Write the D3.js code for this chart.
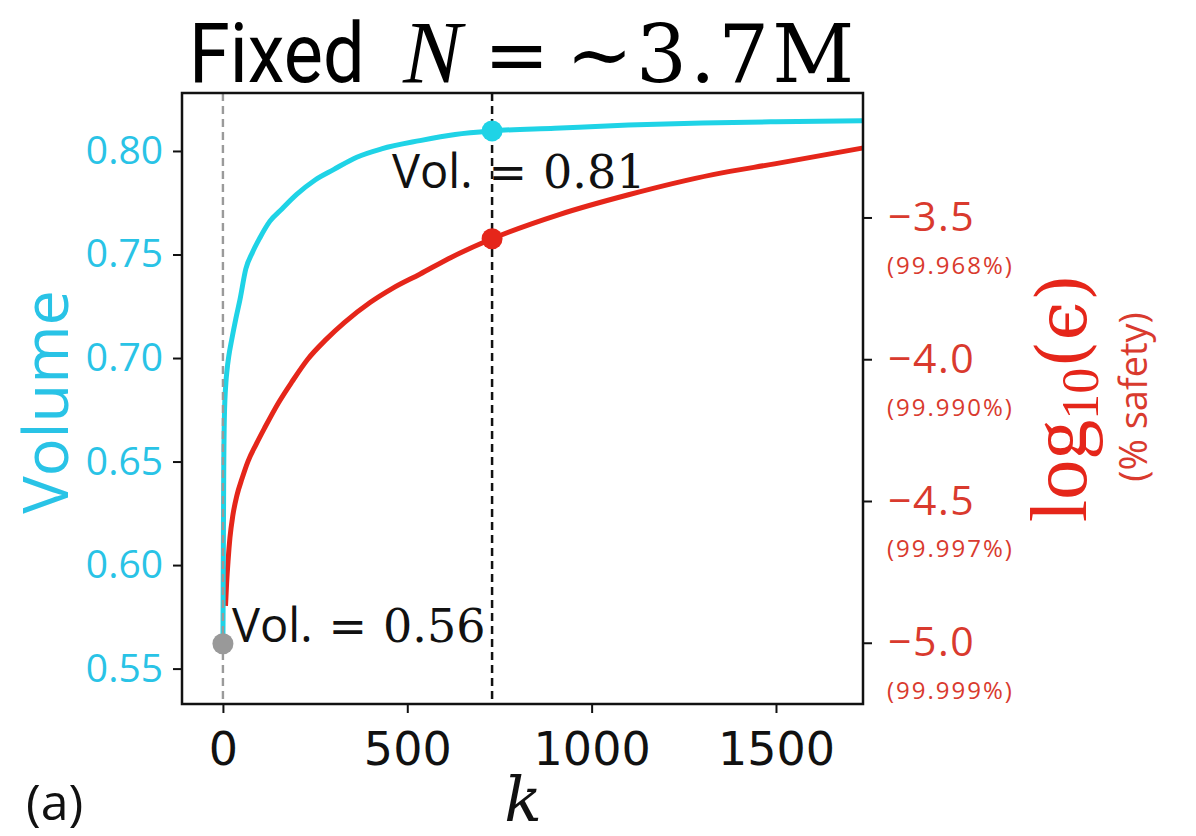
<!DOCTYPE html>
<html><head><meta charset="utf-8">
<script src="https://cdn.jsdelivr.net/npm/d3@7"></script>
<style>
html,body{margin:0;padding:0;background:#fff;}
svg{display:block;}
</style>
</head><body>
<svg id="chart" width="1196" height="836"></svg>
<script>
// ---- data ----
const volK   = [0, 1, 2, 4, 8, 11, 16, 24, 35, 46, 62, 80, 100, 127, 160, 200, 250, 300, 363, 430, 534, 630, 730, 900, 1100, 1300, 1500, 1736];
const volVal = [0.562, 0.60, 0.64, 0.672, 0.688, 0.694, 0.701, 0.709, 0.719, 0.728, 0.743, 0.751, 0.758, 0.766, 0.772, 0.779, 0.786, 0.791, 0.797, 0.801, 0.805, 0.808, 0.8097, 0.811, 0.8125, 0.8135, 0.8141, 0.8146];
const epsK   = [7, 10, 14, 19, 27, 38, 52, 68, 90, 114, 150, 187, 230, 280, 330, 399, 460, 534, 620, 730, 914, 1100, 1329, 1500, 1736];
const epsVal = [-4.87, -4.79, -4.71, -4.63, -4.55, -4.48, -4.42, -4.36, -4.30, -4.24, -4.155, -4.08, -4.00, -3.93, -3.87, -3.80, -3.75, -3.70, -3.64, -3.575, -3.489, -3.42, -3.349, -3.31, -3.255];
const xTicks = [0, 500, 1000, 1500];
const leftTicks = [0.55, 0.60, 0.65, 0.70, 0.75, 0.80];
const rightTicks = [-3.5, -4.0, -4.5, -5.0];
const safetyLabels = ["(99.968%)", "(99.990%)", "(99.997%)", "(99.999%)"];
const kStart = 0, volStart = 0.562;
const kStar = 730, volStar = 0.8097, epsStar = -3.575;

const CYAN = "#1fd3e6", CYAN_T = "#29c3e6", RED = "#e5261a", RED_T = "#d93a2e";
const svg = d3.select("#chart");
const L = 182, R = 863, T = 93, B = 704;
const x = d3.scaleLinear().domain([-111, 1736]).range([L, R]);
const yL = d3.scaleLinear().domain([0.5329, 0.828]).range([B, T]);
const yR = d3.scaleLinear().domain([-5.216, -3.061]).range([B, T]);

const volData = volK.map((k, i) => [k, volVal[i]]);
const epsData = epsK.map((k, i) => [k, epsVal[i]]);

const plot = svg.append("g");
plot.append("clipPath").attr("id", "clip").append("rect").attr("x", L).attr("y", T).attr("width", R - L).attr("height", B - T);
const inner = plot.append("g").attr("clip-path", "url(#clip)");

// black dashed line at kStar
inner.append("line").attr("x1", x(kStar)).attr("x2", x(kStar)).attr("y1", T).attr("y2", B)
  .attr("stroke", "#111").attr("stroke-width", 2.5).attr("stroke-dasharray", "8,5");

// red line
inner.append("path").datum(epsData)
  .attr("d", d3.line().x(d => x(d[0])).y(d => yR(d[1])).curve(d3.curveMonotoneX))
  .attr("fill", "none").attr("stroke", RED).attr("stroke-width", 5).attr("stroke-linejoin", "round");
// cyan line
inner.append("path").datum(volData)
  .attr("d", d3.line().x(d => x(d[0])).y(d => yL(d[1])).curve(d3.curveMonotoneX))
  .attr("fill", "none").attr("stroke", CYAN).attr("stroke-width", 5).attr("stroke-linejoin", "round");

// gray dashed at k=0
inner.append("line").attr("x1", x(kStart)).attr("x2", x(kStart)).attr("y1", T).attr("y2", B)
  .attr("stroke", "#9a9a9a").attr("stroke-width", 2.4).attr("stroke-dasharray", "8,5");

// markers
svg.append("circle").attr("cx", x(kStart)).attr("cy", yL(volStart)).attr("r", 10.5).attr("fill", "#999");
svg.append("circle").attr("cx", x(kStar)).attr("cy", yL(volStar)).attr("r", 10.5).attr("fill", CYAN);
svg.append("circle").attr("cx", x(kStar)).attr("cy", yR(epsStar)).attr("r", 10.5).attr("fill", RED);

// frame
svg.append("rect").attr("x", L).attr("y", T).attr("width", R - L).attr("height", B - T)
  .attr("fill", "none").attr("stroke", "#111").attr("stroke-width", 2.5);

// axes
const gx = svg.append("g").attr("transform", `translate(0,${B})`)
  .call(d3.axisBottom(x).tickValues(xTicks).tickFormat(d3.format("d")).tickSize(9).tickSizeOuter(0).tickPadding(6));
gx.select(".domain").remove();
gx.selectAll(".tick line").attr("stroke", "#111").attr("stroke-width", 2);
gx.selectAll(".tick text").attr("font-family", "DejaVu Sans").attr("font-size", 46).attr("fill", "#111")
  .attr("dy", null).attr("y", 61).attr("transform", null);

const gl = svg.append("g").attr("transform", `translate(${L},0)`)
  .call(d3.axisLeft(yL).tickValues(leftTicks).tickFormat(d3.format(".2f")).tickSize(9).tickSizeOuter(0).tickPadding(10));
gl.select(".domain").remove();
gl.selectAll(".tick line").attr("stroke", "#111").attr("stroke-width", 2);
gl.selectAll(".tick text").attr("font-family", "Open Sans").attr("font-size", 39).attr("fill", CYAN_T);

const gr = svg.append("g").attr("transform", `translate(${R},0)`)
  .call(d3.axisRight(yR).tickValues(rightTicks).tickFormat(d => d3.format(".1f")(d).replace("-", "\u2212")).tickSize(9).tickSizeOuter(0).tickPadding(16));
gr.select(".domain").remove();
gr.selectAll(".tick line").attr("stroke", "#111").attr("stroke-width", 2);
gr.selectAll(".tick text").attr("font-family", "Open Sans").attr("font-size", 41).attr("letter-spacing", 1.5).attr("fill", RED_T).attr("dy", "0.32em");
gr.selectAll(".tick").append("text")
  .text((d, i) => safetyLabels[i])
  .attr("x", 24).attr("y", 56).attr("font-family", "Open Sans").attr("font-size", 24)
  .attr("letter-spacing", 2).attr("fill", RED_T).attr("text-anchor", "start");

// annotations
function annot(xp, yp, v) {
  const a = svg.append("text").attr("x", xp).attr("y", yp).attr("fill", "#111");
  a.append("tspan").attr("font-family", "Open Sans").attr("font-size", 47).text("Vol.");
  a.append("tspan").attr("font-family", "DejaVu Serif").attr("font-size", 46).attr("dx", 16).text("=");
  a.append("tspan").attr("font-family", "DejaVu Serif").attr("font-size", 46).attr("dx", 16).text(v.toFixed(2));
}
annot(392, 188, volStar);
annot(232, 642, volStart);

// title
svg.append("text").attr("transform", "translate(189,82) scale(0.88,1)")
  .attr("font-family", "Roboto").attr("font-size", 84).attr("fill", "#000").text("Fixed");
svg.append("text").attr("x", 403).attr("y", 82)
  .attr("font-family", "Liberation Serif").attr("font-style", "italic").attr("font-size", 88).attr("fill", "#000").text("N");
svg.append("text").attr("x", 484).attr("y", 82)
  .attr("font-family", "DejaVu Serif").attr("font-size", 78).attr("fill", "#000").text("=");
svg.append("text").attr("x", 566).attr("y", 82)
  .attr("font-family", "DejaVu Serif").attr("font-size", 80).attr("letter-spacing", 3).attr("fill", "#000").text("~3.7M");

// axis labels
svg.append("text").attr("transform", "translate(68,402) rotate(-90)").attr("text-anchor", "middle")
  .attr("font-family", "Open Sans").attr("font-size", 63).attr("fill", CYAN_T).text("Volume");

const rl = svg.append("text").attr("transform", "translate(1086,398) rotate(-90)").attr("text-anchor", "middle").attr("fill", RED);
rl.append("tspan").attr("font-family", "Liberation Serif").attr("font-size", 80).text("log");
rl.append("tspan").attr("font-family", "Liberation Serif").attr("font-size", 52).attr("dy", 12).text("10");
rl.append("tspan").attr("font-family", "DejaVu Serif").attr("font-size", 70).attr("dy", -12).text("(\u03F5)");
svg.append("text").attr("transform", "translate(1147,397) rotate(-90)").attr("text-anchor", "middle")
  .attr("font-family", "Open Sans").attr("font-size", 38).attr("fill", RED_T).text("(% safety)");

svg.append("text").attr("x", 523).attr("y", 821).attr("text-anchor", "middle")
  .attr("font-family", "DejaVu Serif").attr("font-style", "italic").attr("font-size", 62).attr("fill", "#111").text("k");
svg.append("text").attr("x", 26).attr("y", 820)
  .attr("font-family", "Open Sans").attr("font-size", 50).attr("fill", "#111").text("(a)");
</script>
</body></html>
